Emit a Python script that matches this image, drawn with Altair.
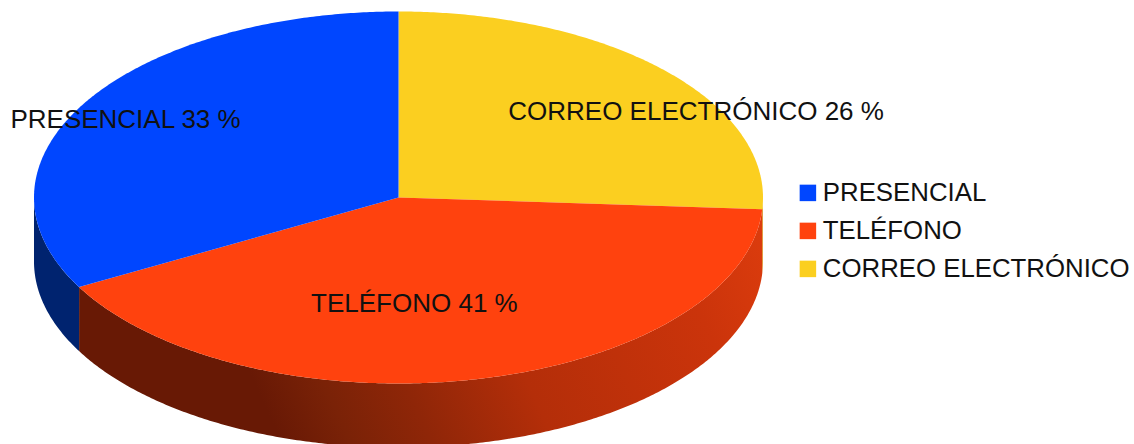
import math
import altair as alt

# Contact channels and their shares, clockwise from twelve o'clock
START_ORDER = ["CORREO ELECTRÓNICO", "TELÉFONO", "PRESENCIAL"]
START_SHARES = [26, 41, 33]
LEGEND_ORDER = ["PRESENCIAL", "TELÉFONO", "CORREO ELECTRÓNICO"]
TOP_COLORS = ["#0046ff", "#ff420e", "#fbcf20"]

# Disc geometry in pixels
CX, CY = 398.5, 197.5
RX, RY = 364.5, 186.0
DEPTH = 64.0
FONT = "Liberation Sans"

# Label anchors as fractions of the rim point at each slice's middle angle
LABEL_FRACTIONS = {
    "CORREO ELECTRÓNICO": (1.12, 0.674),
    "TELÉFONO": (0.20, 0.585),
    "PRESENCIAL": (0.87, 0.823),
}


def rim(deg, drop=0.0):
    a = math.radians(deg)
    return [RX * math.sin(a), -RY * math.cos(a) + drop]


def arc(a, b, drop=0.0):
    steps = max(2, int(abs(b - a) * 2))
    return [rim(a + (b - a) * i / steps, drop) for i in range(steps + 1)]


def feature(name, ring):
    return {
        "type": "Feature",
        "properties": {"name": name},
        "geometry": {"type": "Polygon", "coordinates": [ring + [ring[0]]]},
    }


# Slice boundaries follow from the shares
slices, labels, sides = [], [], {}
angle = 0.0
for name, share in zip(START_ORDER, START_SHARES):
    end = angle + share * 3.6
    slices.append(feature(name, [[0.0, 0.0]] + arc(angle, end)))
    mid = rim((angle + end) / 2)
    fx, fy = LABEL_FRACTIONS[name]
    labels.append({"x": mid[0] * fx, "y": mid[1] * fy, "text": f"{name} {share} %"})
    # Only the rim below the widest points shows its wall
    lo, hi = max(angle, 90.0), min(end, 270.0)
    if hi > lo:
        sides[name] = feature(name, arc(lo, hi) + arc(hi, lo, DEPTH))
    angle = end

projection = dict(type="identity", scale=1, translate=[CX, CY])


def wall(name, stops, **direction):
    gradient = alt.LinearGradient(
        gradient="linear",
        stops=[alt.GradientStop(offset=o, color=c) for o, c in stops],
        **direction,
    )
    return (
        alt.Chart(alt.Data(values=[sides[name]]))
        .mark_geoshape(fill=gradient)
        .project(**projection)
    )


walls = alt.layer(
    wall(
        "CORREO ELECTRÓNICO",
        [(0, "#d8a818"), (1, "#d8a818")],
        x1=0, x2=1, y1=0, y2=0,
    ),
    wall(
        "TELÉFONO",
        [
            (0.0, "#681905"),
            (0.10, "#7a2207"),
            (0.22, "#8f2608"),
            (0.40, "#b42e09"),
            (0.70, "#cb340b"),
            (0.85, "#dc3c0d"),
            (1.0, "#dc3c0d"),
        ],
        x1=0.3, x2=1.275, y1=1, y2=0.844,
    ),
    wall(
        "PRESENCIAL",
        [(0, "#00236f"), (1, "#00236f")],
        x1=0, x2=1, y1=0, y2=0,
    ),
)

tops = (
    alt.Chart(alt.Data(values=slices))
    .mark_geoshape()
    .encode(
        color=alt.Color(
            "properties.name:N",
            scale=alt.Scale(domain=LEGEND_ORDER, range=TOP_COLORS),
            legend=alt.Legend(
                title=None,
                orient="none",
                legendX=795,
                legendY=180,
                symbolType="square",
                symbolSize=272,
                symbolStrokeWidth=0,
                labelFont=FONT,
                labelFontSize=25.8,
                labelColor="#111111",
                labelLimit=400,
                labelOffset=2,
                rowPadding=11,
                padding=0,
            ),
        )
    )
    .project(**projection)
)

text = (
    alt.Chart(alt.Data(values=labels))
    .mark_text(font=FONT, fontSize=26, color="#111111", align="center", baseline="middle")
    .encode(longitude="x:Q", latitude="y:Q", text="text:N")
    .project(**projection)
)

chart = (
    alt.layer(walls, tops, text)
    .properties(width=1134, height=444, padding=0, autosize=alt.AutoSizeParams(type="none"))
    .configure_view(stroke=None)
    .configure(background="white")
)

chart.save("out.html", embed_options={"renderer": "svg", "actions": False})
